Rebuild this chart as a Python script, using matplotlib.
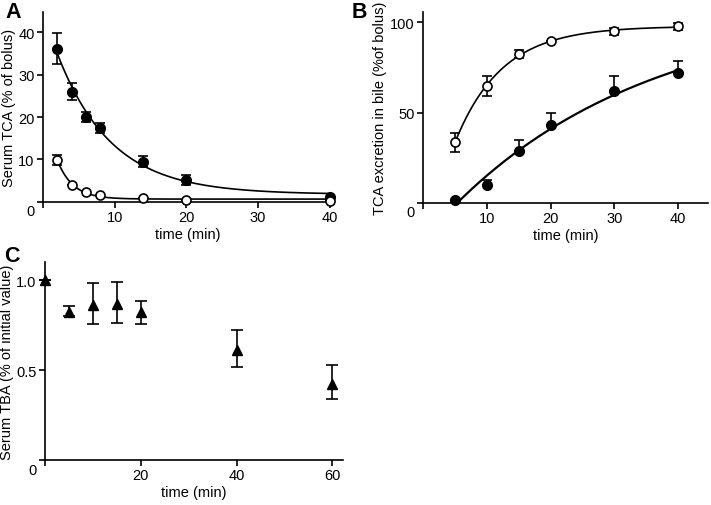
import matplotlib
matplotlib.use("Agg")
import matplotlib.pyplot as plt
from matplotlib.transforms import ScaledTranslation
import numpy as np

plt.rcParams['font.family'] = ['Liberation Sans', 'DejaVu Sans']

# panel A: serum TCA (% of bolus)
a_time = [2, 4, 6, 8, 14, 20, 40]
a_filled = [36.1, 25.9, 20.0, 17.5, 9.5, 5.2, 1.25]
a_filled_err = [3.6, 2.0, 1.2, 1.2, 1.35, 1.1, 0.0]
a_open = [9.9, 3.9, 2.4, 1.6, 0.9, 0.5, 0.3]
a_open_err = [1.25, 0, 0, 0, 0, 0, 0]

# panel B: TCA excretion in bile (% of bolus)
b_time = [5, 10, 15, 20, 30, 40]
b_open = [33.6, 64.6, 82.5, 89.5, 95.0, 97.8]
b_open_err = [5.3, 5.6, 2.3, 0.0, 1.9, 1.9]
b_filled = [1.7, 10.0, 28.6, 43.2, 62.1, 71.9]
b_filled_up = [0.0, 2.9, 6.3, 6.6, 8.4, 6.9]

# panel C: serum TBA (fraction of initial value)
c_time = [0, 5, 10, 15, 20, 40, 60]
c_tba = [1.0, 0.823, 0.864, 0.870, 0.823, 0.613, 0.424]
c_lo = [0.0, 0.023, 0.107, 0.110, 0.066, 0.098, 0.084]
c_hi = [0.0, 0.034, 0.121, 0.121, 0.060, 0.108, 0.102]


def exp_fit(x, y):
    # y = plateau + span * exp(-k x), k by grid search, the rest by least squares
    x = np.asarray(x, float)
    y = np.asarray(y, float)
    best = None
    for k in np.logspace(-3, 1, 2000):
        M = np.column_stack([np.ones_like(x), np.exp(-k * x)])
        coef, *_ = np.linalg.lstsq(M, y, rcond=None)
        r = np.sum((M @ coef - y) ** 2)
        if best is None or r < best[0]:
            best = (r, k, coef)
    _, k, coef = best
    xs = np.linspace(x.min(), x.max(), 300)
    return xs, coef[0] + coef[1] * np.exp(-k * xs)


def style(ax):
    for s in ['top', 'right']:
        ax.spines[s].set_visible(False)
    for s in ['left', 'bottom']:
        ax.spines[s].set_linewidth(1.2)
    ax.tick_params(direction='out', length=4, width=1.2, labelsize=10.5, pad=2)


def drop_zero(ax, fig):
    # Prism-like: the "0" y label sits a little below the axis corner
    lab = ax.get_yticklabels()[0]
    lab.set_transform(lab.get_transform() + ScaledTranslation(0, -8 / 100, fig.dpi_scale_trans))


fig = plt.figure(figsize=(7.11, 5.06), dpi=100)

# A
ax = fig.add_axes([0.0605, 0.599, 0.408, 0.375])
style(ax)
xs, ys = exp_fit(a_time, a_filled)
ax.plot(xs, ys, color='black', lw=1.2)
xs, ys = exp_fit(a_time, a_open)
ax.plot(xs, ys, color='black', lw=1.2)
ax.errorbar(a_time, a_filled, yerr=a_filled_err, fmt='o', color='black', ms=7,
            capsize=3.5, elinewidth=1.2, capthick=1.2, clip_on=False, zorder=3)
ax.errorbar(a_time, a_open, yerr=a_open_err, fmt='o', mfc='white', mec='black', ecolor='black',
            ms=6.5, mew=1.2, capsize=3.5, elinewidth=1.2, capthick=1.2, clip_on=False, zorder=4)
ax.set_xlim(0, 40.5)
ax.set_ylim(0, 44.7)
ax.set_xticks([0, 10, 20, 30, 40])
ax.set_xticklabels(['', '10', '20', '30', '40'])
ax.set_yticks([0, 10, 20, 30, 40])
ax.set_xlabel('time (min)', fontsize=10.5, labelpad=2)
ax.set_ylabel('Serum TCA (% of bolus)', fontsize=10.5, labelpad=2)
drop_zero(ax, fig)

# B
ax = fig.add_axes([0.595, 0.597, 0.401, 0.377])
style(ax)
xs, ys = exp_fit(b_time, b_open)
ax.plot(xs, ys, color='black', lw=1.2)
xs, ys = exp_fit(b_time, b_filled)
ax.plot(xs, ys, color='black', lw=1.6)
ax.errorbar(b_time, b_filled, yerr=[np.zeros(len(b_filled)), b_filled_up], fmt='o', color='black',
            ms=7, capsize=3.5, elinewidth=1.2, capthick=1.2, clip_on=False, zorder=3)
ax.errorbar(b_time, b_open, yerr=b_open_err, fmt='o', mfc='white', mec='black', ecolor='black',
            ms=6.5, mew=1.2, capsize=3.5, elinewidth=1.2, capthick=1.2, clip_on=False, zorder=4)
ax.set_xlim(0, 44.7)
ax.set_ylim(0, 105.7)
ax.set_xticks([0, 10, 20, 30, 40])
ax.set_xticklabels(['', '10', '20', '30', '40'])
ax.set_yticks([0, 50, 100])
ax.set_xlabel('time (min)', fontsize=10.5, labelpad=2)
ax.set_ylabel('TCA excretion in bile (%of bolus)', fontsize=10.5, labelpad=2)
drop_zero(ax, fig)

# C
ax = fig.add_axes([0.0633, 0.0889, 0.419, 0.391])
style(ax)
ax.errorbar(c_time, c_tba, yerr=[c_lo, c_hi], fmt='^', color='black', ms=7,
            capsize=4, elinewidth=1.2, capthick=1.2, clip_on=False, zorder=3)
ax.set_xlim(0, 62.2)
ax.set_ylim(0, 1.1)
ax.set_xticks([0, 20, 40, 60])
ax.set_xticklabels(['', '20', '40', '60'])
ax.set_yticks([0, 0.5, 1.0])
ax.set_yticklabels(['0', '0.5', '1.0'])
ax.set_xlabel('time (min)', fontsize=10.5, labelpad=2)
ax.set_ylabel('Serum TBA (% of initial value)', fontsize=10.5, labelpad=2)
drop_zero(ax, fig)

fig.text(0.008, 0.996, 'A', fontsize=15.5, fontweight='bold', va='top', ha='left')
fig.text(0.494, 0.996, 'B', fontsize=15.5, fontweight='bold', va='top', ha='left')
fig.text(0.006, 0.514, 'C', fontsize=15.5, fontweight='bold', va='top', ha='left')

fig.savefig('out.png', dpi=100)
